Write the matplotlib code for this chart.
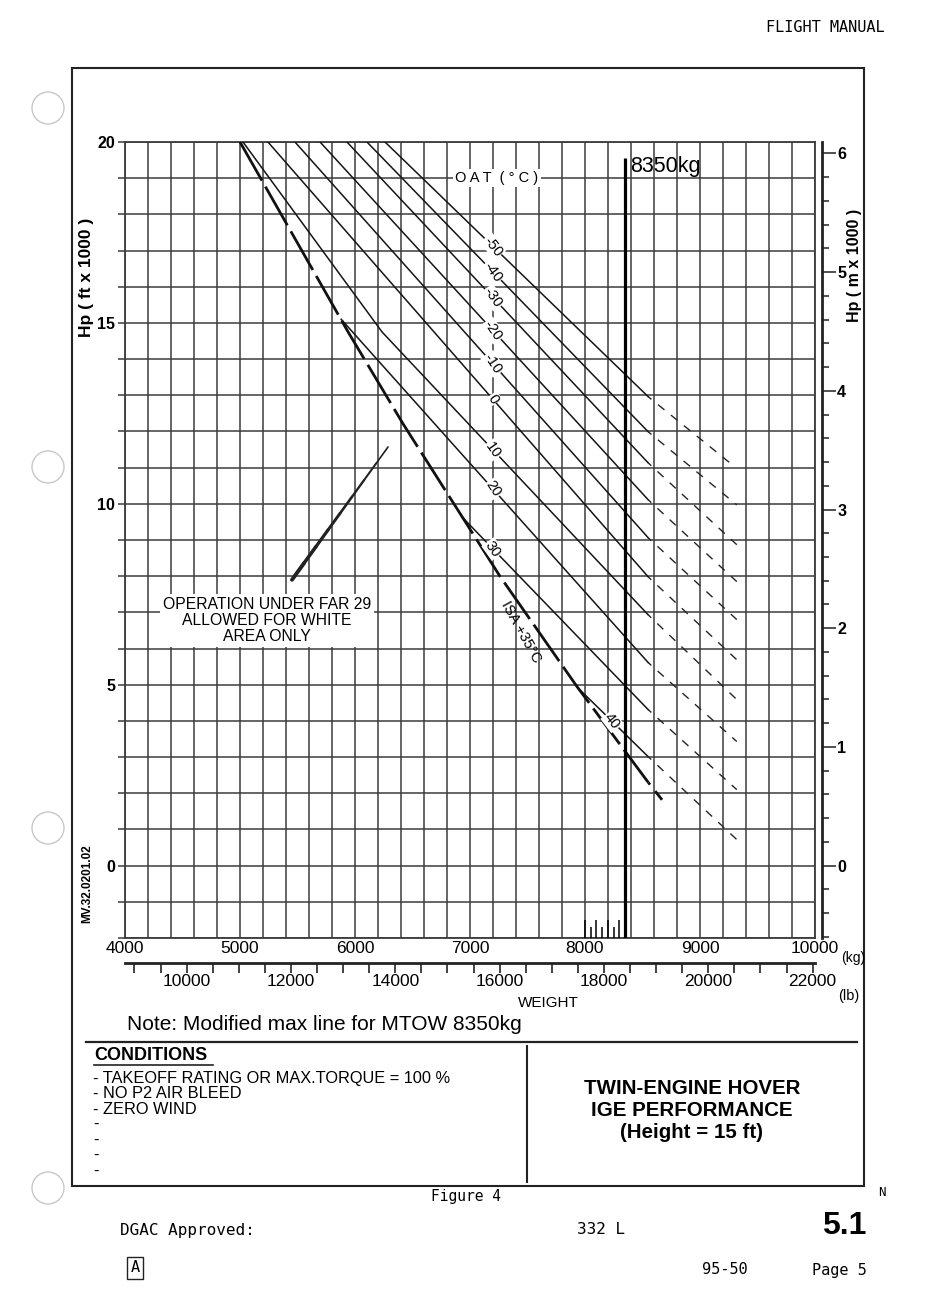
import numpy as np
import matplotlib.pyplot as plt
from matplotlib.patches import Rectangle, Circle
from matplotlib.lines import Line2D
from matplotlib.ticker import MultipleLocator
from matplotlib.transforms import IdentityTransform

plt.rcParams['font.family'] = ['Liberation Sans', 'DejaVu Sans']

# OAT curves: weight (kg) vs pressure altitude (ft x 1000)
oat_labels = ['-50', '-40', '-30', '-20', '-10', '0', '10', '20', '30', '40']
oat_w = [[6261, 8550], [6104, 8550], [5930, 8550], [5696, 8550], [5478, 8550],
         [5243, 8550], [5026, 6235, 8550], [5880, 8550], [6930, 8550], [7930, 8550]]
oat_hp = [[20, 12.96], [20, 11.99], [20, 11.13], [20, 10.11], [20, 9.06],
          [20, 7.98], [20, 14.75, 6.93], [15.1, 5.61], [9.64, 4.31], [4.94, 3.01]]
# dashed extrapolated part (end points)
ext_w = [9280, 9320, 9320, 9320, 9320, 9320, 9320, 9320, 9320, 9320]
ext_hp = [11.08, 9.97, 8.87, 7.85, 6.80, 5.69, 4.59, 3.43, 2.10, 0.72]

# ISA +35 limit
isa_w = [5000, 5940, 6420, 6930, 7260, 7930, 8550]
isa_hp = [20.0, 14.75, 12.2, 9.65, 8.0, 4.95, 2.3]
isa_ext_w = [8550, 8700]
isa_ext_hp = [2.3, 1.7]

# modified MTOW line
mtow = 8350
mtow_top = 19.55
fine_w = [8000, 8050, 8100, 8150, 8200, 8250, 8300]
fine_h = [0.5, 0.3, 0.5, 0.3, 0.5, 0.3, 0.5]

# FAR 29 leader (start, end)
far_w = [5452, 6287]
far_hp = [7.9, 11.57]

KG2LB = 2.20462
FT2M = 3.28084
W, H = 935, 1304


def fx(x):
    return x / W


def fy(y):
    return 1 - y / H


fig = plt.figure(figsize=(W / 100, H / 100), dpi=100)
ax = fig.add_axes([fx(125), fy(938), 690 / W, 796 / H])
ax.set_xlim(4000, 10000)
ax.set_ylim(-2, 20)

gcol = '#3c3c3c'
ax.set_xticks(np.arange(4000, 10001, 1000))
ax.set_xticks(np.arange(4000, 10001, 200), minor=True)
ax.set_yticks([0, 5, 10, 15, 20])
ax.set_yticks(np.arange(-2, 21, 1), minor=True)
ax.grid(which='both', color=gcol, lw=1.1)
ax.set_axisbelow(True)
for s in ax.spines.values():
    s.set_color(gcol)
    s.set_linewidth(1.3)
ax.tick_params(axis='x', which='both', length=0, pad=2, labelsize=12.5)
ax.tick_params(axis='y', which='both', direction='out', length=5, width=1.1,
               color=gcol, pad=2, labelsize=11.5)
for t in ax.get_yticklabels():
    t.set_fontweight('bold')

# OAT lines
for i, lab in enumerate(oat_labels):
    ax.plot(oat_w[i], oat_hp[i], color='#151515', lw=1.1, zorder=3)
    ax.plot([oat_w[i][-1], ext_w[i]], [oat_hp[i][-1], ext_hp[i]],
            color='#252525', lw=1.0, ls=(3, (6, 6)), zorder=3)

# ISA +35 line
ax.plot(isa_w, isa_hp, color='#111111', lw=2.0, ls=(0, (16, 2.5)), zorder=3)
ax.plot(isa_ext_w, isa_ext_hp, color='#111111', lw=2.0, ls=(3, (4, 3)), zorder=3)

# labels on the OAT lines
for i, lab in enumerate(oat_labels):
    lw_ = 8235 if lab == '40' else 7200
    w = np.array(oat_w[i])
    h = np.array(oat_hp[i])
    hp = np.interp(lw_, w, h)
    p1 = ax.transData.transform((w[-2], h[-2]))
    p2 = ax.transData.transform((w[-1], h[-1]))
    ang = np.degrees(np.arctan2(p2[1] - p1[1], p2[0] - p1[0])) - 8
    ax.text(lw_, hp, lab, rotation=ang, rotation_mode='anchor', ha='center',
            va='center', fontsize=10.5, zorder=6,
            bbox=dict(fc='white', ec='none', pad=0.6))

p1 = ax.transData.transform((isa_w[4], isa_hp[4]))
p2 = ax.transData.transform((isa_w[5], isa_hp[5]))
ang = np.degrees(np.arctan2(p2[1] - p1[1], p2[0] - p1[0])) - 6
hp_isa = 6.45
w_isa = np.interp(-hp_isa, -np.array(isa_hp), isa_w)
ax.annotate('ISA +35°C', (w_isa, hp_isa), xytext=(-13, 0), textcoords='offset points',
            rotation=ang, rotation_mode='anchor', ha='center', va='center',
            fontsize=10.5, zorder=6)

ax.text(7235, 19.0, 'O A T  ( ° C )', ha='center', va='center', fontsize=10.5,
        zorder=6, bbox=dict(fc='white', ec='none', pad=1.5))

# FAR 29 note: tapered leader
n = 8
fw = np.linspace(far_w[0], far_w[1], n + 1)
fh = np.linspace(far_hp[0], far_hp[1], n + 1)
for k in range(n):
    ax.plot(fw[k:k + 2], fh[k:k + 2], color='#222222', lw=2.8 - 1.8 * k / n,
            solid_capstyle='round', zorder=4)
ax.text(5235, 6.77, 'OPERATION UNDER FAR 29\nALLOWED FOR WHITE\nAREA ONLY',
        ha='center', va='center', fontsize=11.3, linespacing=1.08, zorder=6,
        bbox=dict(fc='white', ec='none', pad=2.0))

# MTOW line
ax.vlines(mtow, -2, mtow_top, color='black', lw=2.3, zorder=7)
ax.vlines(fine_w, -2, -2 + np.array(fine_h), color='black', lw=1.1, zorder=7)
ax.text(mtow + 40, 19.33, '8350kg', ha='left', va='center', fontsize=15.5, zorder=7)

# right altitude scale in metres
ax2 = ax.twinx()
ax2.set_ylim(-2 / FT2M, 20 / FT2M)
for k in ['left', 'top', 'bottom']:
    ax2.spines[k].set_visible(False)
ax2.spines['right'].set_position(('outward', 5))
ax2.spines['right'].set_linewidth(2.0)
ax2.spines['right'].set_color('#222222')
ax2.set_yticks(np.arange(0, 7, 1))
ax2.yaxis.set_minor_locator(MultipleLocator(0.2))
ax2.tick_params(which='major', length=10, width=1.1, color='#222222', pad=1, labelsize=11.5)
ax2.tick_params(which='minor', length=5, width=1.1, color='#222222')
for t in ax2.get_yticklabels():
    t.set_fontweight('bold')

# pound scale
sec = ax.secondary_xaxis(-25 / 796, functions=(lambda w: w * KG2LB, lambda p: p / KG2LB))
sec.set_xticks(np.arange(10000, 22001, 2000))
sec.xaxis.set_minor_locator(MultipleLocator(500))
sec.spines['bottom'].set_linewidth(2.0)
sec.spines['bottom'].set_color('#222222')
sec.tick_params(which='both', direction='out', length=7, width=1.2, color='#222222',
                pad=1, labelsize=12.5)

# axis texts
fig.text(fx(87), fy(277), 'Hp ( ft x 1000 )', rotation=90, ha='center', va='center',
         fontsize=12.5, fontweight='bold')
fig.text(fx(87), fy(884), 'MV.32.0201.02', rotation=90, ha='center', va='center',
         fontsize=8.5, fontweight='bold')
fig.text(fx(855), fy(265), 'Hp ( m x 1000 )', rotation=90, ha='center', va='center',
         fontsize=11.5, fontweight='bold')
fig.text(fx(841), fy(958), '(kg)', ha='left', va='center', fontsize=10)
fig.text(fx(838), fy(996), '(lb)', ha='left', va='center', fontsize=10.5)
fig.text(fx(548), fy(1003), 'WEIGHT', ha='center', va='center', fontsize=11)
fig.text(fx(127), fy(1025), 'Note: Modified max line for MTOW 8350kg', ha='left',
         va='center', fontsize=15)

# page frame and conditions box
fig.add_artist(Rectangle((fx(72), fy(1186)), 792 / W, 1118 / H, transform=fig.transFigure,
                         fill=False, lw=1.5, ec='#222222'))
fig.add_artist(Line2D([fx(86), fx(857)], [fy(1042), fy(1042)], lw=1.6, color='#222222'))
fig.add_artist(Line2D([fx(527), fx(527)], [fy(1046), fy(1182)], lw=1.5, color='#222222'))

fig.text(fx(94), fy(1055), 'CONDITIONS', ha='left', va='center', fontsize=13,
         fontweight='bold')
fig.add_artist(Line2D([fx(94), fx(213)], [fy(1065), fy(1065)], lw=1.2, color='#222222'))
cond = ['- TAKEOFF RATING OR MAX.TORQUE = 100 %', '- NO P2 AIR BLEED', '- ZERO WIND',
        '-', '-', '-', '-']
for i, c in enumerate(cond):
    fig.text(fx(93), fy(1078 + 15.5 * i), c, ha='left', va='center', fontsize=11.8)

for i, t in enumerate(['TWIN-ENGINE HOVER', 'IGE PERFORMANCE', '(Height = 15 ft)']):
    fig.text(fx(692), fy(1088 + 22 * i), t, ha='center', va='center', fontsize=14.8,
             fontweight='bold')

# header / footer
mono = 'DejaVu Sans Mono'
fig.text(fx(885), fy(28), 'FLIGHT MANUAL', ha='right', va='center', fontsize=11, family=mono)
fig.text(fx(466), fy(1197), 'Figure 4', ha='center', va='center', fontsize=10.5, family=mono)
fig.text(fx(882), fy(1193), 'N', ha='center', va='center', fontsize=9, family=mono)
fig.text(fx(120), fy(1230), 'DGAC Approved:', ha='left', va='center', fontsize=11.5, family=mono)
fig.text(fx(601), fy(1230), '332 L', ha='center', va='center', fontsize=11.5, family=mono)
fig.text(fx(866), fy(1226), '5.1', ha='right', va='center', fontsize=23, fontweight='bold')
fig.text(fx(135), fy(1268), 'A', ha='center', va='center', fontsize=11, family=mono,
         bbox=dict(fc='white', ec='#222222', lw=1.0, pad=2.5))
fig.text(fx(725), fy(1270), '95-50', ha='center', va='center', fontsize=11, family=mono)
fig.text(fx(867), fy(1270), 'Page 5', ha='right', va='center', fontsize=11, family=mono)

# binder holes
for y in [108, 467, 828, 1188]:
    fig.add_artist(Circle((48, H - y), 16, transform=IdentityTransform(), fill=False,
                          ec='#c8c8c8', lw=1.0))

fig.savefig('out.png', dpi=100)
